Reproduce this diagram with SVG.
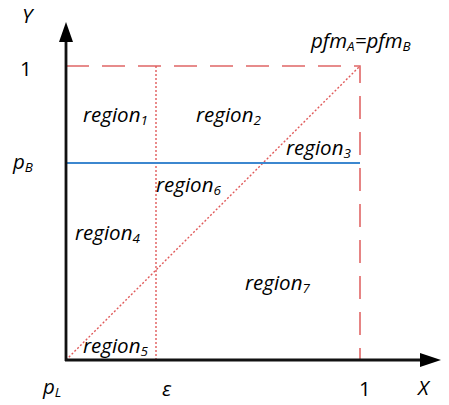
<svg xmlns="http://www.w3.org/2000/svg" width="449" height="405" viewBox="0 0 449 405">
<style>
text{font-family:"Open Sans","Noto Sans",sans-serif;font-size:20.5px;fill:#000}
.it{font-style:italic}
.sub{font-size:13.5px}
.dash{stroke:#e06666;stroke-width:1.6;fill:none;stroke-dasharray:23 13}
.dot{stroke:#e05a5a;stroke-width:1.4;fill:none;stroke-dasharray:2 2}
.axis{stroke:#111;stroke-width:2.8;fill:none}
</style>
<rect width="449" height="405" fill="#fff"/>
<g id="connectors">
<path class="dash" d="M66,66 H360 V360"/>
<line class="dot" x1="156" y1="66" x2="156" y2="360"/>
<line class="dot" x1="66" y1="360" x2="360" y2="66"/>
<line x1="66" y1="163" x2="360" y2="163" stroke="#3c87cf" stroke-width="1.8"/>
<line class="axis" x1="66" y1="361" x2="66" y2="40"/>
<polygon points="66,22 59,42 73,42" fill="#000"/>
<line class="axis" x1="65" y1="360" x2="422" y2="360"/>
<polygon points="441,360 420,353 420,367" fill="#000"/>
</g>
<g id="labels">
<text class="it" x="22" y="23">Y</text>
<text x="20" y="76">1</text>
<text class="it" x="13" y="169">p<tspan class="sub" dy="3">B</tspan></text>
<text class="it" x="43" y="394">p<tspan class="sub" dy="3">L</tspan></text>
<text class="it" x="162" y="396">ε</text>
<text x="359" y="396">1</text>
<text class="it" x="418" y="395">X</text>
<text class="it" x="311" y="48">pfm<tspan class="sub" dy="3">A</tspan><tspan dy="-3">=pfm</tspan><tspan class="sub" dy="3">B</tspan></text>
</g>
<g id="region1"><text class="it" x="83" y="122">region<tspan class="sub" dy="3">1</tspan></text></g>
<g id="region2"><text class="it" x="196" y="122">region<tspan class="sub" dy="3">2</tspan></text></g>
<g id="region3"><text class="it" x="286" y="155">region<tspan class="sub" dy="3">3</tspan></text></g>
<g id="region6"><text class="it" x="156" y="192">region<tspan class="sub" dy="3">6</tspan></text></g>
<g id="region4"><text class="it" x="75" y="240">region<tspan class="sub" dy="3">4</tspan></text></g>
<g id="region7"><text class="it" x="245" y="290">region<tspan class="sub" dy="3">7</tspan></text></g>
<g id="region5"><text class="it" x="83" y="353">region<tspan class="sub" dy="3">5</tspan></text></g>
</svg>
